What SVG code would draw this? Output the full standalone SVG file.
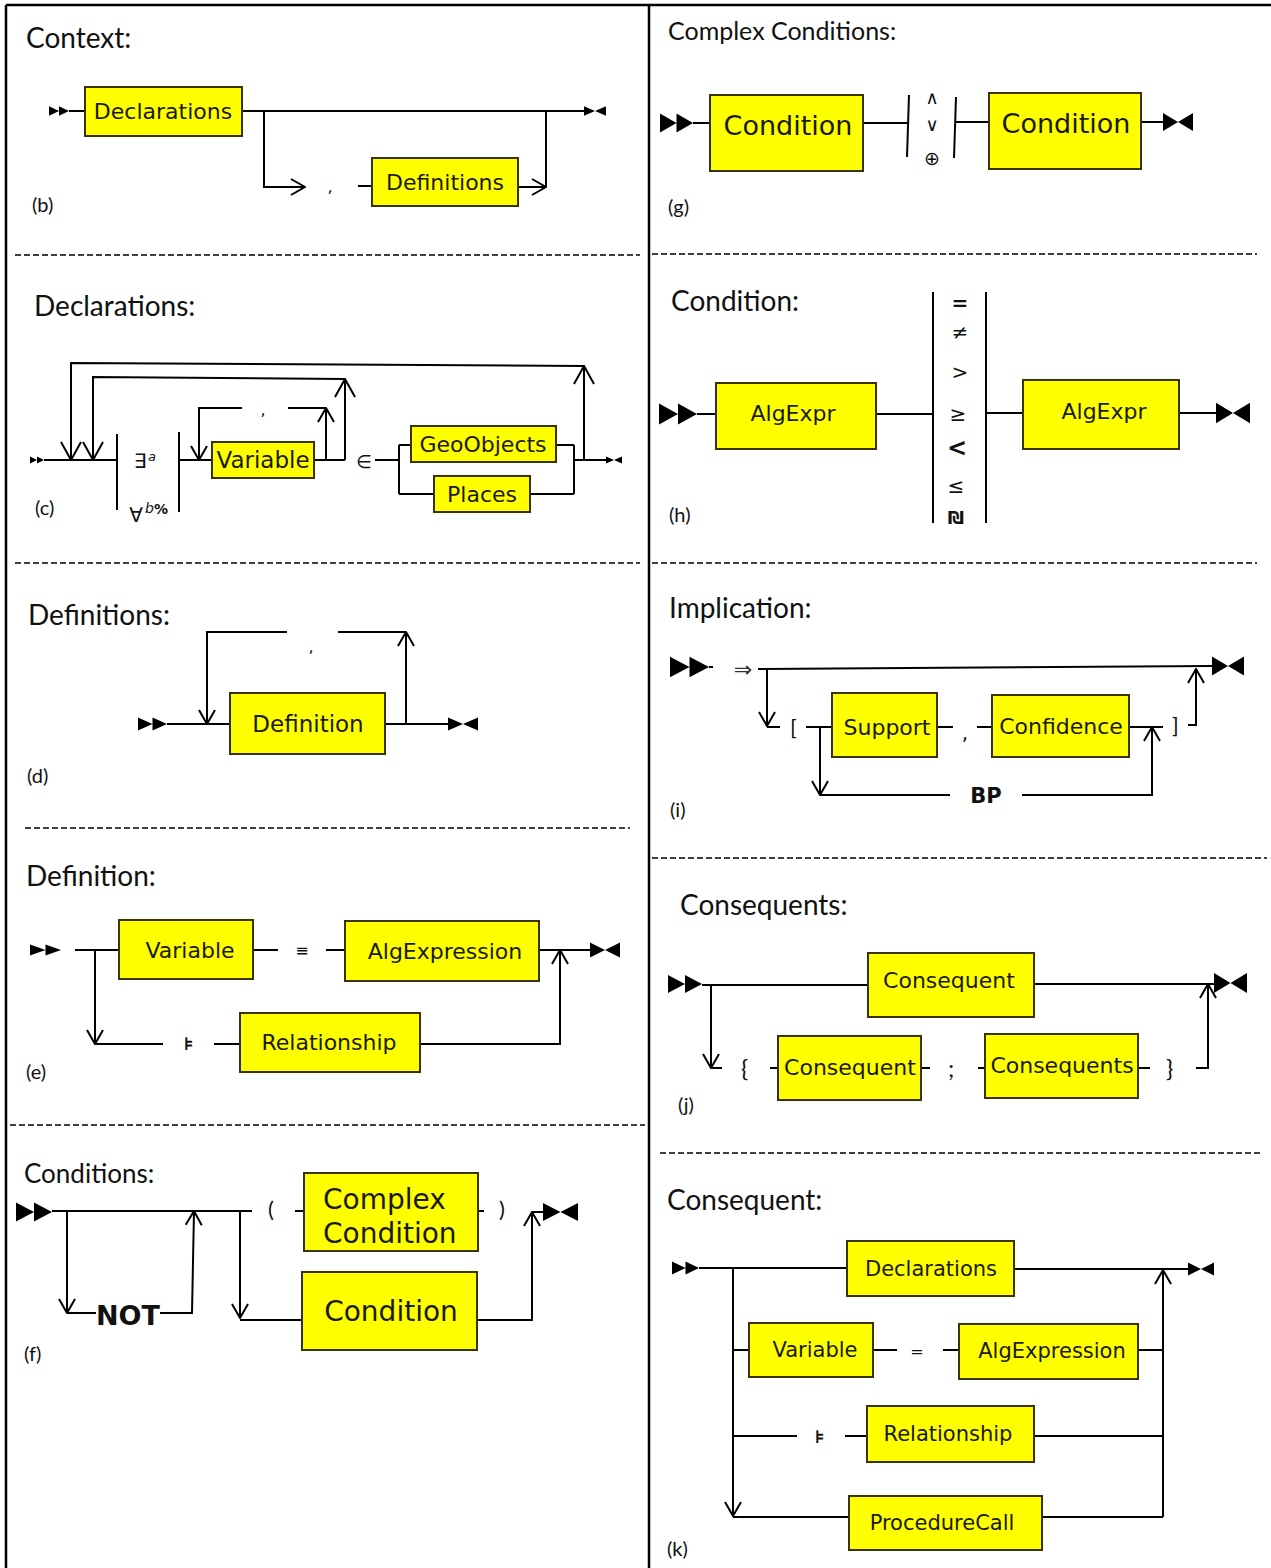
<svg xmlns="http://www.w3.org/2000/svg" width="1271" height="1568" viewBox="0 0 1271 1568">
<style>
.box{fill:#ffff00;stroke:#3b3205;stroke-width:2}
.bt{font-family:"DejaVu Sans",Verdana,sans-serif;fill:#1a1a0a;text-anchor:middle;font-size:22px}
.ln{fill:none;stroke:#000;stroke-width:2}
.ar{fill:none;stroke:#000;stroke-width:2;marker-end:url(#ah)}
.arL{fill:none;stroke:#000;stroke-width:2;marker-end:url(#ahL)}
.title{font-family:Lato,"Open Sans",sans-serif;font-size:28px;fill:#111}
.lab{font-family:Lato,"Open Sans",sans-serif;font-size:20px;fill:#111}
.sym{font-family:"DejaVu Sans",sans-serif;fill:#111;text-anchor:middle}
.dash{fill:none;stroke:#000;stroke-width:1.3;stroke-dasharray:6 3}
.frame{fill:none;stroke:#000;stroke-width:2.5}
.mk{fill:#000}
</style>
<defs>
<marker id="ah" viewBox="-1 -1 16 18" markerWidth="16" markerHeight="18" refX="14" refY="8" orient="auto" markerUnits="userSpaceOnUse"><path d="M0,0 L14,8 L0,16" fill="none" stroke="#000" stroke-width="2"/></marker>
<marker id="ahL" viewBox="-1 -1 20 22" markerWidth="20" markerHeight="22" refX="18" refY="10" orient="auto" markerUnits="userSpaceOnUse"><path d="M0,0 L18,10 L0,20" fill="none" stroke="#000" stroke-width="2"/></marker>
<path id="st" d="M0,-6 L10,0 L0,6Z M10,-6 L20,0 L10,6Z"/>
<path id="en" d="M0,-6 L10,0 L0,6Z M20,-6 L10,0 L20,6Z"/>
</defs>
<rect width="1271" height="1568" fill="#fff"/>
<g id="frame">
<path class="frame" d="M6,5 H1271 M6,5 V1568 M649,5 V1568"/>
<path class="dash" d="M15,255 H640 M15,563 H640 M25,828 H630 M10,1125 H645 M652,254 H1257 M652,563 H1257 M652,858 H1267 M660,1153 H1263"/>
</g>
<g id="connectors">
<!-- (b) -->
<use href="#st" class="mk" transform="translate(49,111) scale(1,0.8)"/>
<use href="#en" class="mk" transform="translate(584,111) scale(1.1,0.8)"/>
<path class="ln" d="M69,111 H85 M242,111 H584 M546,187 V111 M358,186 H372"/>
<path class="ar" d="M264,111 V187 H305"/>
<path class="ar" d="M518,187 H546"/>
<!-- (c) -->
<use href="#st" class="mk" transform="translate(30,460) scale(0.7,0.6)"/>
<use href="#en" class="mk" transform="translate(606,460) scale(0.8,0.6)"/>
<path class="ln" d="M44,460 H117 M117,434 V510 M179,432 V512 M179,460 H212 M314,460 H345 M326,408 H288 M375,460 H399 M399,445 V494 M399,445 H411 M399,494 H434 M556,445 H574 M530,494 H574 M574,445 V494 M574,460 H606"/>
<path class="arL" d="M584,460 V366"/>
<path class="arL" d="M584,366 L71,363 V460"/>
<path class="arL" d="M345,460 V379"/>
<path class="arL" d="M345,379 L93,377 V460"/>
<path class="ar" d="M326,460 V408"/>
<path class="ar" d="M242,408 H199 V460"/>
<!-- (d) -->
<use href="#st" class="mk" transform="translate(138,724) scale(1.45,1.1)"/>
<use href="#en" class="mk" transform="translate(448,724) scale(1.5,1.1)"/>
<path class="ln" d="M167,724 H230 M385,724 H448 M406,632 H338"/>
<path class="ar" d="M406,724 V632"/>
<path class="ar" d="M287,632 H207 V724"/>
<!-- (e) -->
<use href="#st" class="mk" transform="translate(30,950) scale(1.55,0.9)"/>
<use href="#en" class="mk" transform="translate(590,950) scale(1.5,1.25)"/>
<path class="ln" d="M75,950 H119 M253,950 H278 M326,950 H345 M539,950 H590 M95,1044 H163 M214,1044 H240"/>
<path class="ar" d="M95,950 V1044"/>
<path class="ar" d="M420,1044 H560 V950"/>
<!-- (f) -->
<use href="#st" class="mk" transform="translate(16,1212) scale(1.8,1.6)"/>
<use href="#en" class="mk" transform="translate(543,1212) scale(1.75,1.5)"/>
<path class="ln" d="M52,1211 H252 M67,1313 H96 M240,1320 H302 M295,1211 H304 M478,1211 H484 M532,1212 H543"/>
<path class="ar" d="M67,1211 V1313"/>
<path class="ar" d="M160,1313 H192 L194,1211"/>
<path class="ar" d="M240,1211 V1318"/>
<path class="ar" d="M477,1320 H532 V1212"/>
<!-- (g) -->
<use href="#st" class="mk" transform="translate(660,123) scale(1.65,1.6)"/>
<use href="#en" class="mk" transform="translate(1163,122) scale(1.5,1.5)"/>
<path class="ln" d="M693,123 H710 M863,123 H908 M909,95 L907,157 M956,97 L954,158 M955,122 H989 M1141,122 H1163"/>
<!-- (h) -->
<use href="#st" class="mk" transform="translate(659,414) scale(1.9,1.75)"/>
<use href="#en" class="mk" transform="translate(1216,413) scale(1.7,1.7)"/>
<path class="ln" d="M697,414 H716 M876,414 H933 M933,292 V523 M986,292 V523 M986,413 H1023 M1179,413 H1216"/>
<!-- (i) -->
<use href="#st" class="mk" transform="translate(670,667) scale(1.95,1.7)"/>
<use href="#en" class="mk" transform="translate(1212,666) scale(1.6,1.6)"/>
<path class="ln" d="M709,667 H713 M758,669 L1212,666 M767,727 H780 M806,727 H832 M937,727 H953 M977,727 H992 M1129,727 H1163 M820,795 H950"/>
<path class="ar" d="M767,669 V726"/>
<path class="ar" d="M1188,725 H1196 V669"/>
<path class="ar" d="M820,727 V795"/>
<path class="ar" d="M1022,795 H1152 V727"/>
<!-- (j) -->
<use href="#st" class="mk" transform="translate(668,984) scale(1.7,1.5)"/>
<use href="#en" class="mk" transform="translate(1214,983) scale(1.65,1.65)"/>
<path class="ln" d="M702,985 H868 M1034,984 H1214 M711,1068 H722 M770,1068 H778 M921,1068 H930 M978,1068 H985 M1138,1068 H1150"/>
<path class="ar" d="M711,985 V1068"/>
<path class="ar" d="M1196,1068 H1208 V984"/>
<!-- (k) -->
<use href="#st" class="mk" transform="translate(672,1268) scale(1.35,1.1)"/>
<use href="#en" class="mk" transform="translate(1188,1269) scale(1.3,1.1)"/>
<path class="ln" d="M699,1268 H847 M1014,1269 H1188 M733,1350 H749 M873,1350 H897 M943,1350 H959 M1138,1350 H1163 M733,1436 H797 M845,1436 H867 M1034,1436 H1163 M733,1517 H849 M1042,1517 H1163"/>
<path class="ar" d="M733,1268 V1516"/>
<path class="ar" d="M1163,1517 V1270"/>
</g>
<g id="panel-b">
<text class="title" x="26" y="48">Context:</text>
<text class="lab" x="32" y="212">(b)</text>
<text class="sym" x="330" y="192" style="font-size:16px">,</text>
</g>
<g id="node-b-declarations"><rect class="box" x="85" y="87" width="157" height="49"/><text class="bt" x="163" y="119">Declarations</text></g>
<g id="node-b-definitions"><rect class="box" x="372" y="158" width="146" height="48"/><text class="bt" x="445" y="190">Definitions</text></g>
<g id="panel-c">
<text class="title" x="34" y="316">Declarations:</text>
<text class="lab" x="35" y="515">(c)</text>
<text class="sym" x="134" y="468" style="font-size:20px;text-anchor:start">∃</text>
<text x="148" y="461" style="font-family:'DejaVu Sans',sans-serif;font-size:13px;font-style:italic;fill:#111">a</text>
<text class="sym" x="136" y="522" style="font-size:20px">∀</text>
<text x="145" y="513" style="font-family:'DejaVu Sans',sans-serif;font-size:14px;font-style:italic;fill:#111">b</text>
<text x="154" y="514" style="font-family:'DejaVu Sans',sans-serif;font-size:14px;font-weight:bold;fill:#111">%</text>
<text class="sym" x="263" y="415" style="font-size:16px">,</text>
<text class="sym" x="364" y="468" style="font-size:18px">∈</text>
</g>
<g id="node-c-variable"><rect class="box" x="212" y="442" width="102" height="36"/><text class="bt" x="263" y="468" style="font-size:23px">Variable</text></g>
<g id="node-c-geoobjects"><rect class="box" x="411" y="426" width="145" height="36"/><text class="bt" x="483" y="452">GeoObjects</text></g>
<g id="node-c-places"><rect class="box" x="434" y="476" width="96" height="36"/><text class="bt" x="482" y="502">Places</text></g>
<g id="panel-d">
<text class="title" x="28" y="625">Definitions:</text>
<text class="lab" x="27" y="783">(d)</text>
<text class="sym" x="311" y="652" style="font-size:16px">,</text>
</g>
<g id="node-d-definition"><rect class="box" x="230" y="693" width="155" height="61"/><text class="bt" x="308" y="732" style="font-size:23px">Definition</text></g>
<g id="panel-e">
<text class="title" x="26" y="886">Definition:</text>
<text class="lab" x="26" y="1079">(e)</text>
<text class="sym" x="302" y="956" style="font-size:16px">≡</text>
<text class="sym" x="189" y="1050" style="font-size:18px;font-weight:bold">⊧</text>
</g>
<g id="node-e-variable"><rect class="box" x="119" y="920" width="134" height="59"/><text class="bt" x="190" y="958">Variable</text></g>
<g id="node-e-algexpression"><rect class="box" x="345" y="921" width="194" height="60"/><text class="bt" x="445" y="959">AlgExpression</text></g>
<g id="node-e-relationship"><rect class="box" x="240" y="1013" width="180" height="59"/><text class="bt" x="329" y="1050">Relationship</text></g>
<g id="panel-f">
<text class="title" x="24" y="1183" style="font-size:26px">Conditions:</text>
<text class="lab" x="24" y="1361">(f)</text>
<text x="96" y="1325" style="font-family:'DejaVu Sans',sans-serif;font-size:27px;font-weight:bold;fill:#111">NOT</text>
<text class="lab" x="268" y="1217" style="font-size:22px">(</text>
<text class="lab" x="499" y="1217" style="font-size:22px">)</text>
</g>
<g id="node-f-complex"><rect class="box" x="304" y="1173" width="174" height="78"/><text class="bt" x="323" y="1209" style="font-size:28px;text-anchor:start">Complex</text><text class="bt" x="323" y="1243" style="font-size:28px;text-anchor:start">Condition</text></g>
<g id="node-f-condition"><rect class="box" x="302" y="1272" width="175" height="78"/><text class="bt" x="391" y="1321" style="font-size:28px">Condition</text></g>
<g id="panel-g">
<text class="title" x="668" y="40" style="font-size:25px">Complex Conditions:</text>
<text class="lab" x="668" y="214">(g)</text>
<text class="sym" x="932" y="104" style="font-size:18px">∧</text>
<text class="sym" x="932" y="131" style="font-size:18px">∨</text>
<text class="sym" x="932" y="165" style="font-size:19px">⊕</text>
</g>
<g id="node-g-condition1"><rect class="box" x="710" y="95" width="153" height="76"/><text class="bt" x="788" y="135" style="font-size:27px">Condition</text></g>
<g id="node-g-condition2"><rect class="box" x="989" y="93" width="152" height="76"/><text class="bt" x="1066" y="133" style="font-size:27px">Condition</text></g>
<g id="panel-h">
<text class="title" x="671" y="311">Condition:</text>
<text class="lab" x="669" y="522">(h)</text>
<text class="sym" x="960" y="310" style="font-size:20px;font-weight:bold">=</text>
<text class="sym" x="960" y="339" style="font-size:20px">≠</text>
<text class="sym" x="960" y="379" style="font-size:20px">&gt;</text>
<text class="sym" x="958" y="421" style="font-size:20px">≥</text>
<text class="sym" x="957" y="456" style="font-size:24px;font-weight:bold">&lt;</text>
<text class="sym" x="956" y="493" style="font-size:20px">≤</text>
<text class="sym" x="956" y="524" style="font-size:18px;font-weight:bold">₪</text>
</g>
<g id="node-h-algexpr1"><rect class="box" x="716" y="383" width="160" height="66"/><text class="bt" x="793" y="421">AlgExpr</text></g>
<g id="node-h-algexpr2"><rect class="box" x="1023" y="380" width="156" height="69"/><text class="bt" x="1104" y="419">AlgExpr</text></g>
<g id="panel-i">
<text class="title" x="669" y="618">Implication:</text>
<text class="lab" x="670" y="817">(i)</text>
<text class="sym" x="743" y="677" style="font-size:22px;fill:#333">⇒</text>
<text class="lab" x="790" y="735" style="font-size:22px">[</text>
<text class="sym" x="965" y="740" style="font-size:20px">,</text>
<text class="lab" x="1172" y="733" style="font-size:22px">]</text>
<text x="986" y="803" style="font-family:'DejaVu Sans',sans-serif;font-size:21px;font-weight:bold;text-anchor:middle;fill:#111">BP</text>
</g>
<g id="node-i-support"><rect class="box" x="832" y="693" width="105" height="64"/><text class="bt" x="887" y="735">Support</text></g>
<g id="node-i-confidence"><rect class="box" x="992" y="695" width="137" height="62"/><text class="bt" x="1061" y="734">Confidence</text></g>
<g id="panel-j">
<text class="title" x="680" y="915">Consequents:</text>
<text class="lab" x="678" y="1112">(j)</text>
<text class="lab" x="741" y="1077" style="font-size:24px">{</text>
<text class="lab" x="948" y="1077" style="font-size:24px">;</text>
<text class="lab" x="1166" y="1077" style="font-size:24px">}</text>
</g>
<g id="node-j-consequent"><rect class="box" x="868" y="953" width="166" height="64"/><text class="bt" x="949" y="988">Consequent</text></g>
<g id="node-j-consequent2"><rect class="box" x="778" y="1036" width="143" height="64"/><text class="bt" x="850" y="1075">Consequent</text></g>
<g id="node-j-consequents"><rect class="box" x="985" y="1034" width="153" height="64"/><text class="bt" x="1062" y="1073">Consequents</text></g>
<g id="panel-k">
<text class="title" x="667" y="1210">Consequent:</text>
<text class="lab" x="667" y="1556">(k)</text>
<text class="sym" x="917" y="1357" style="font-size:16px">=</text>
<text class="sym" x="820" y="1443" style="font-size:18px;font-weight:bold">⊧</text>
</g>
<g id="node-k-declarations"><rect class="box" x="847" y="1241" width="167" height="55"/><text class="bt" x="931" y="1276" style="font-size:21px">Declarations</text></g>
<g id="node-k-variable"><rect class="box" x="749" y="1323" width="124" height="54"/><text class="bt" x="815" y="1357" style="font-size:21px">Variable</text></g>
<g id="node-k-algexpression"><rect class="box" x="959" y="1324" width="179" height="55"/><text class="bt" x="1052" y="1358" style="font-size:21px">AlgExpression</text></g>
<g id="node-k-relationship"><rect class="box" x="867" y="1406" width="167" height="56"/><text class="bt" x="948" y="1441" style="font-size:21px">Relationship</text></g>
<g id="node-k-procedurecall"><rect class="box" x="849" y="1496" width="193" height="54"/><text class="bt" x="942" y="1530" style="font-size:21px">ProcedureCall</text></g>
</svg>
